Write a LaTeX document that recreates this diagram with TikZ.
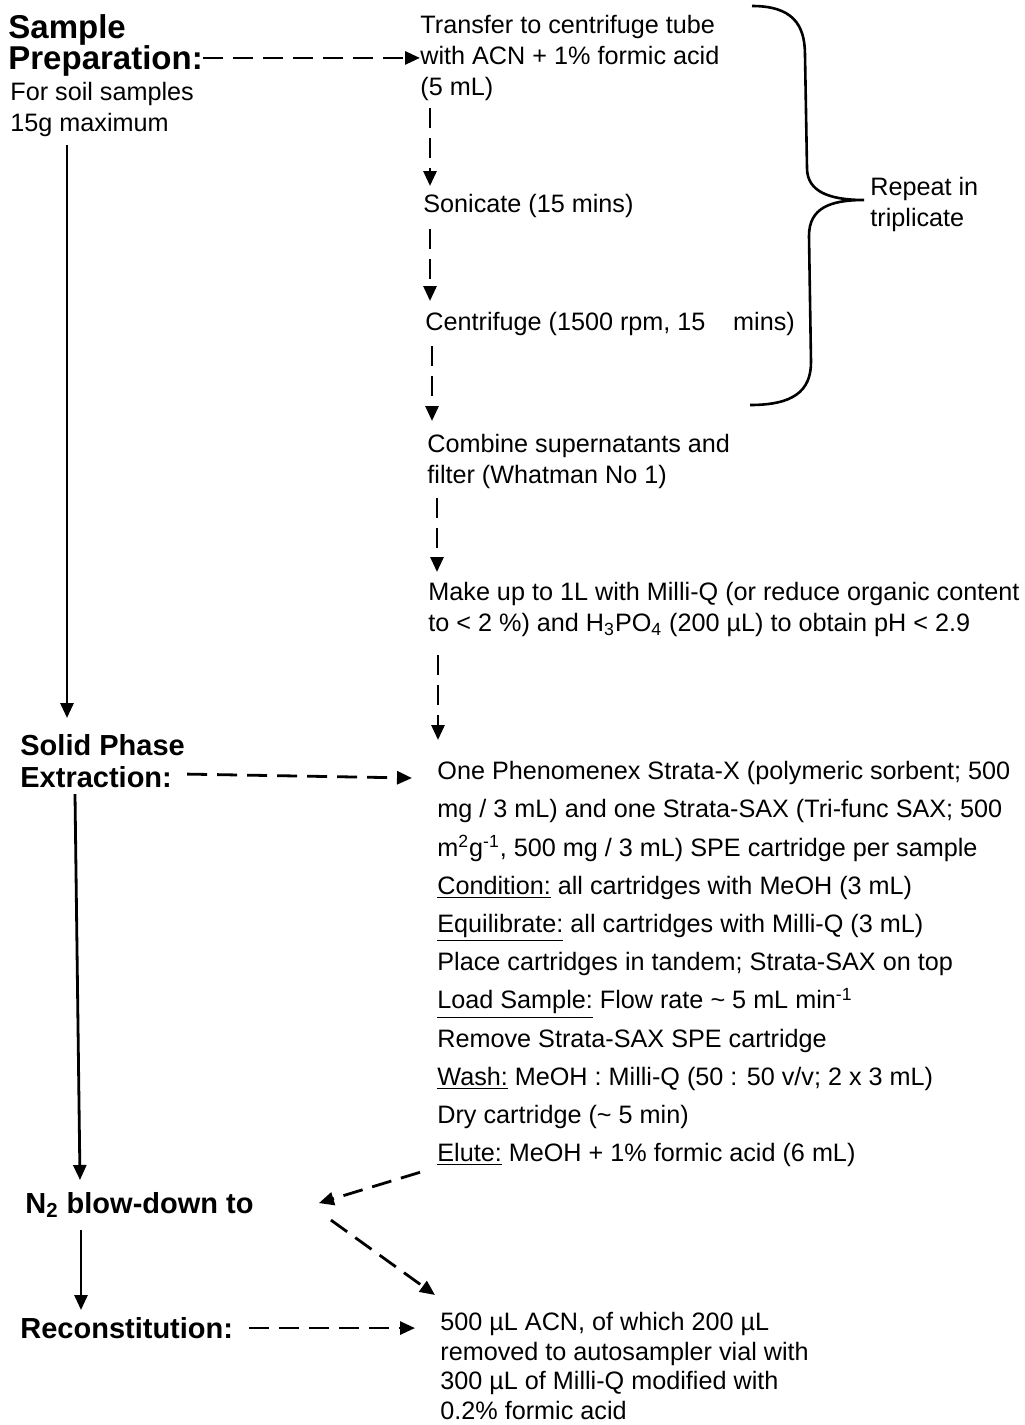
\documentclass[tikz,border=0pt]{standalone}
\usepackage{fontspec}
\setmainfont{Liberation Sans}
\usetikzlibrary{arrows.meta,calc}

\begin{document}
\begin{tikzpicture}[
  x=0.5pt, y=-0.5pt,
  stage/.style={inner sep=0pt, anchor=north west, align=left,
    font=\fontsize{14.5}{16}\selectfont\bfseries},
  stepnote/.style={inner sep=0pt, anchor=north west, align=left,
    font=\fontsize{12.6}{15.4}\selectfont},
  spelist/.style={stepnote, font=\fontsize{12.6}{19.1}\selectfont},
  flow/.style={-{Triangle[length=7.5pt,width=6.5pt]}, line width=1.4pt},
  dflow/.style={flow, dash pattern=on 10pt off 5pt},
  brace/.style={line width=1.3pt},
]
\useasboundingbox (0,0) rectangle (1024,1425);

% Left column: stages
\node[stage, font=\fontsize{16.5}{15.5}\selectfont\bfseries] (prep) at (8,14) {Sample\\Preparation:};
\node[stepnote] (soil) at (10,82) {For soil samples\\15g maximum};
\node[stage] (spelbl) at (20,734) {Solid Phase\\Extraction:};
\node[stage] (blow) at (25,1192) {N\textsubscript{2} blow-down to};
\node[stage] (recon) at (20,1317) {Reconstitution:};

% Right column: steps
\node[stepnote] (transfer) at (420,15) {Transfer to centrifuge tube\\with ACN + 1\% formic acid\\(5 mL)};
\node[stepnote] (sonic) at (423,194) {Sonicate (15 mins)};
\node[stepnote] (centri) at (425,312) {Centrifuge (1500 rpm, 15\hspace{1.1em}mins)};
\node[stepnote] (combine) at (427,434) {Combine supernatants and\\filter (Whatman No 1)};
\node[stepnote] (makeup) at (428,582) {Make up to 1L with Milli-Q (or reduce organic content\\to < 2 \%) and H\textsubscript{3}PO\textsubscript{4} (200 µL) to obtain pH < 2.9};
\node[spelist] (spe) at (437,761) {One Phenomenex Strata-X (polymeric sorbent; 500\\
  mg / 3 mL) and one Strata-SAX (Tri-func SAX; 500\\
  m\textsuperscript{2}g\textsuperscript{-1}, 500 mg / 3 mL) SPE cartridge per sample\\
  \underline{Condition:} all cartridges with MeOH (3 mL)\\
  \underline{Equilibrate:} all cartridges with Milli-Q (3 mL)\\
  Place cartridges in tandem; Strata-SAX on top\\
  \underline{Load Sample:} Flow rate \textasciitilde{} 5 mL min\textsuperscript{-1}\\
  Remove Strata-SAX SPE cartridge\\
  \underline{Wash:} MeOH : Milli-Q (50 : 50 v/v; 2 x 3 mL)\\
  Dry cartridge (\textasciitilde{} 5 min)\\
  \underline{Elute:} MeOH + 1\% formic acid (6 mL)};
\node[stepnote, font=\fontsize{12.6}{14.8}\selectfont] (vial) at (440,1312) {500 µL ACN, of which 200 µL\\removed to autosampler vial with\\300 µL of Milli-Q modified with\\0.2\% formic acid};

% Repeat brace
\coordinate (btop) at (752,6);
\coordinate (btip) at (864,200);
\coordinate (bbot) at (750,405);
\draw[brace] (btop) .. controls (792,6) and (805,24) .. (805,55)
  -- (807,168) .. controls (807,192) and (830,200) .. (btip)
  .. controls (830,200) and (809,208) .. (809,236)
  -- (811,362) .. controls (811,392) and (792,405) .. (bbot);
\node[stepnote] (repeat) at (870,177) {Repeat in\\triplicate};

% Solid arrows between stages
\draw[flow] ($(soil.south west)+(57,8)$) -- ($(spelbl.north west)+(47,-16)$);
\draw[flow] ($(spelbl.south west)+(55,6)$) -- ($(blow.north west)+(55,-12)$);
\draw[flow] ($(blow.south west)+(56,12)$) -- ($(recon.north west)+(61,-7)$);

% Dashed arrows to steps
\draw[dflow] (prep.east |- transfer.west) -- (transfer.west);
\draw[dflow] ($(transfer.south west)+(10,7)$) -- ($(sonic.north west)+(7,-8)$);
\draw[dflow] ($(sonic.south west)+(7,11)$) -- ($(centri.north west)+(5,-11)$);
\draw[dflow] ($(centri.south west)+(7,10)$) -- ($(combine.north west)+(5,-13)$);
\draw[dflow] ($(combine.south west)+(10,9)$) -- ($(makeup.north west)+(9,-10)$);
\draw[dflow] ($(makeup.south west)+(10,18)$) -- ($(spe.north west)+(1,-21)$);
\draw[dflow] ($(spelbl.south east)+(2,-14)$) -- ($(spe.north west)+(-25,17)$);
\draw[dflow] ($(spe.south west)+(-17,5)$) -- ($(blow.east)+(65,-2)$);
\draw[dflow] ($(blow.east)+(77,15)$) -- ($(vial.north west)+(-5,-17)$);
\draw[dflow] ($(recon.east)+(16,0)$) -- ($(vial.north west |- recon.east)+(-25,0)$);
\end{tikzpicture}
\end{document}
